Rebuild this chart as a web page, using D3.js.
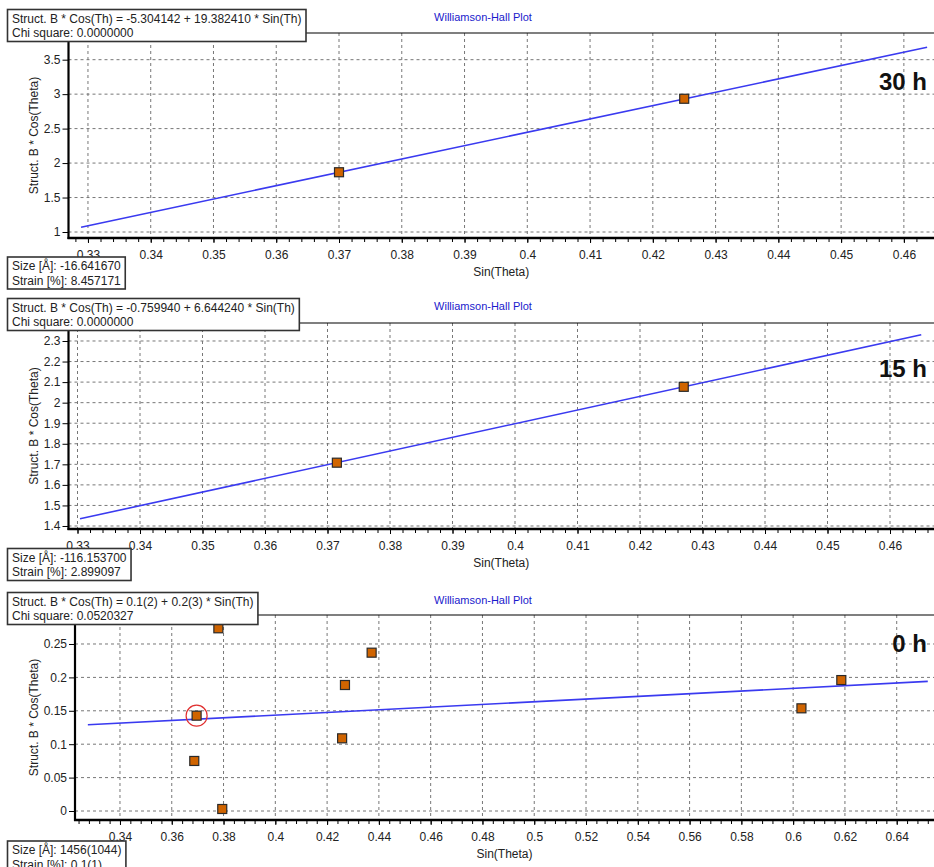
<!DOCTYPE html>
<html>
<head>
<meta charset="utf-8">
<script src="https://cdn.jsdelivr.net/npm/d3@7"></script>
<style>
  body { margin: 0; background: #fff; }
  svg { display: block; }
  text { font-family: "Liberation Sans", Arial, sans-serif; }
</style>
</head>
<body>
<div id="chart"></div>
<script>
// ---- data ----
// 30 h
var x30 = [0.3700, 0.4250];
var y30 = [1.867, 2.933];
var fitX30 = [0.3289, 0.4637];
var fitY30 = [1.07, 3.68];
var xTicks30 = [0.33, 0.34, 0.35, 0.36, 0.37, 0.38, 0.39, 0.40, 0.41, 0.42, 0.43, 0.44, 0.45, 0.46];
var yTicks30 = [1, 1.5, 2, 2.5, 3, 3.5];

// 15 h
var x15 = [0.3715, 0.4270];
var y15 = [1.708, 2.077];
var fitX15 = [0.3304, 0.4650];
var fitY15 = [1.435, 2.330];
var xTicks15 = [0.33, 0.34, 0.35, 0.36, 0.37, 0.38, 0.39, 0.40, 0.41, 0.42, 0.43, 0.44, 0.45, 0.46];
var yTicks15 = [1.4, 1.5, 1.6, 1.7, 1.8, 1.9, 2.0, 2.1, 2.2, 2.3];

// 0 h
var x0 = [0.3780, 0.4372, 0.4269, 0.3696, 0.4258, 0.3687, 0.3795, 0.6186, 0.6032];
var y0 = [0.2735, 0.2370, 0.1886, 0.1427, 0.1088, 0.0749, 0.0030, 0.1960, 0.1537];
var fitX0 = [0.3276, 0.6520];
var fitY0 = [0.129, 0.194];
var xTicks0 = [0.34, 0.36, 0.38, 0.40, 0.42, 0.44, 0.46, 0.48, 0.50, 0.52, 0.54, 0.56, 0.58, 0.60, 0.62, 0.64];
var yTicks0 = [0, 0.05, 0.1, 0.15, 0.2, 0.25];
var circled0 = 3;

var fmt = function (d) { return String(+d.toFixed(3)); };

var svg = d3.select("#chart").append("svg")
    .attr("width", 934)
    .attr("height", 867);

function drawPanel(p) {
    var x = d3.scaleLinear().domain(p.xDomain).range([p.left, 934]);
    var y = d3.scaleLinear().domain(p.yDomain).range([p.bottom, p.top]);
    var g = svg.append("g");

    // grid
    g.selectAll(".vgrid").data(p.xTicks).enter().append("line")
        .attr("x1", function (d) { return x(d); }).attr("x2", function (d) { return x(d); })
        .attr("y1", p.top).attr("y2", p.bottom)
        .attr("stroke", "#777").attr("stroke-width", 1).attr("stroke-dasharray", "3,3");
    g.selectAll(".hgrid").data(p.yTicks).enter().append("line")
        .attr("x1", p.left).attr("x2", 934)
        .attr("y1", function (d) { return y(d); }).attr("y2", function (d) { return y(d); })
        .attr("stroke", "#777").attr("stroke-width", 1).attr("stroke-dasharray", "3,3");

    // minor ticks on x
    var minor = d3.range(p.xDomain[0] - p.minorStep, p.xDomain[1], p.minorStep).map(function (v) {
        return Math.round(v / p.minorStep) * p.minorStep;
    }).filter(function (v) { return v >= p.xDomain[0] && v <= p.xDomain[1]; });
    g.append("g")
        .attr("transform", "translate(0," + p.bottom + ")")
        .call(d3.axisBottom(x).tickValues(minor).tickSize(4).tickFormat(""))
        .call(function (a) { a.select(".domain").remove(); });

    // x axis
    var xa = g.append("g")
        .attr("transform", "translate(0," + p.bottom + ")")
        .call(d3.axisBottom(x).tickValues(p.xTicks).tickSize(5).tickPadding(7).tickFormat(fmt));
    xa.select(".domain").remove();
    xa.selectAll("text").attr("font-size", 12).attr("fill", "#222")
        .attr("font-family", "Liberation Sans, Arial, sans-serif");

    // y axis
    var ya = g.append("g")
        .attr("transform", "translate(" + p.left + ",0)")
        .call(d3.axisLeft(y).tickValues(p.yTicks).tickSize(6).tickPadding(2).tickFormat(fmt));
    ya.select(".domain").remove();
    ya.selectAll("text").attr("font-size", 12).attr("fill", "#222")
        .attr("font-family", "Liberation Sans, Arial, sans-serif");

    // frame
    g.append("line").attr("x1", p.left).attr("x2", 934).attr("y1", p.top).attr("y2", p.top)
        .attr("stroke", "#000").attr("stroke-width", 1.2);
    g.append("line").attr("x1", p.left).attr("x2", p.left).attr("y1", p.top).attr("y2", p.bottom + 1)
        .attr("stroke", "#000").attr("stroke-width", 2.2);
    g.append("line").attr("x1", p.left - 1).attr("x2", 934).attr("y1", p.bottom).attr("y2", p.bottom)
        .attr("stroke", "#000").attr("stroke-width", 2.5);

    // axis titles
    g.append("text")
        .attr("x", (p.left + 934) / 2).attr("y", p.bottom + 38)
        .attr("text-anchor", "middle").attr("font-size", 12).attr("fill", "#222")
        .text("Sin(Theta)");
    g.append("text")
        .attr("transform", "translate(38," + (p.top + p.bottom) / 2 + ") rotate(-90)")
        .attr("text-anchor", "middle").attr("font-size", 12).attr("fill", "#222")
        .text("Struct. B * Cos(Theta)");

    // fit line
    var fit = p.fitX.map(function (d, i) { return [d, p.fitY[i]]; });
    g.append("path")
        .datum(fit)
        .attr("fill", "none").attr("stroke", "#3a3af0").attr("stroke-width", 1.6)
        .attr("d", d3.line().x(function (d) { return x(d[0]); }).y(function (d) { return y(d[1]); }));

    // points
    var pts = p.px.map(function (d, i) { return { x: d, y: p.py[i], i: i }; });
    g.selectAll(".pt").data(pts).enter().append("rect")
        .attr("x", function (d) { return x(d.x) - 4.5; })
        .attr("y", function (d) { return y(d.y) - 4.5; })
        .attr("width", 9).attr("height", 9)
        .attr("fill", "#d06400").attr("stroke", "#2a2a2a").attr("stroke-width", 1.2);
    if (p.circled != null) {
        g.append("circle")
            .attr("cx", x(pts[p.circled].x)).attr("cy", y(pts[p.circled].y))
            .attr("r", 10.5).attr("fill", "none").attr("stroke", "#e03030").attr("stroke-width", 1.2);
    }

    // chart title
    g.append("text")
        .attr("x", 483).attr("y", p.headerTop + 12)
        .attr("text-anchor", "middle").attr("font-size", 11).attr("fill", "#1a1acc")
        .text("Williamson-Hall Plot");

    // big label
    g.append("text")
        .attr("x", 927).attr("y", p.top + p.labelDy)
        .attr("text-anchor", "end").attr("font-size", 24).attr("font-weight", "bold")
        .attr("font-family", "Open Sans, sans-serif").attr("fill", "#111")
        .text(p.label);

    // boxes
    function box(top, lines) {
        var b = g.append("g");
        var r = b.append("rect").attr("x", 7.5).attr("y", top + 0.5).attr("fill", "#fff")
            .attr("stroke", "#333").attr("stroke-width", 1.6);
        var w = 0;
        lines.forEach(function (t, i) {
            var tx = b.append("text").attr("x", 12).attr("y", top + 13.5 + i * 14.5)
                .attr("font-size", 12).attr("fill", "#222").text(t);
            w = Math.max(w, tx.node().getComputedTextLength());
        });
        r.attr("width", w + 9).attr("height", 32);
    }
    box(p.headerTop, p.header);
    box(p.footerTop, p.footer);
}

drawPanel({
    left: 68.5, top: 33, bottom: 238, headerTop: 9, footerTop: 256.5,
    xDomain: [0.3269, 0.4648], yDomain: [0.913, 3.887], minorStep: 0.002,
    xTicks: xTicks30, yTicks: yTicks30, px: x30, py: y30, fitX: fitX30, fitY: fitY30,
    label: "30 h", labelDy: 57,
    header: ["Struct. B * Cos(Th) = -5.304142 + 19.382410 * Sin(Th)", "Chi square: 0.0000000"],
    footer: ["Size [\u00c5]: -16.641670", "Strain [%]: 8.457171"]
});
drawPanel({
    left: 68.5, top: 323, bottom: 529, headerTop: 298, footerTop: 548,
    xDomain: [0.32856, 0.46704], yDomain: [1.3854, 2.3875], minorStep: 0.002,
    xTicks: xTicks15, yTicks: yTicks15, px: x15, py: y15, fitX: fitX15, fitY: fitY15,
    label: "15 h", labelDy: 54,
    header: ["Struct. B * Cos(Th) = -0.759940 + 6.644240 * Sin(Th)", "Chi square: 0.0000000"],
    footer: ["Size [\u00c5]: -116.153700", "Strain [%]: 2.899097"]
});
drawPanel({
    left: 75, top: 615, bottom: 820, headerTop: 592, footerTop: 840.5,
    xDomain: [0.32263, 0.6544], yDomain: [-0.01347, 0.2934], minorStep: 0.004,
    xTicks: xTicks0, yTicks: yTicks0, px: x0, py: y0, fitX: fitX0, fitY: fitY0, circled: circled0,
    label: "0 h", labelDy: 37,
    header: ["Struct. B * Cos(Th) = 0.1(2) + 0.2(3) * Sin(Th)", "Chi square: 0.0520327"],
    footer: ["Size [\u00c5]: 1456(1044)", "Strain [%]: 0.1(1)"]
});
</script>
</body>
</html>
